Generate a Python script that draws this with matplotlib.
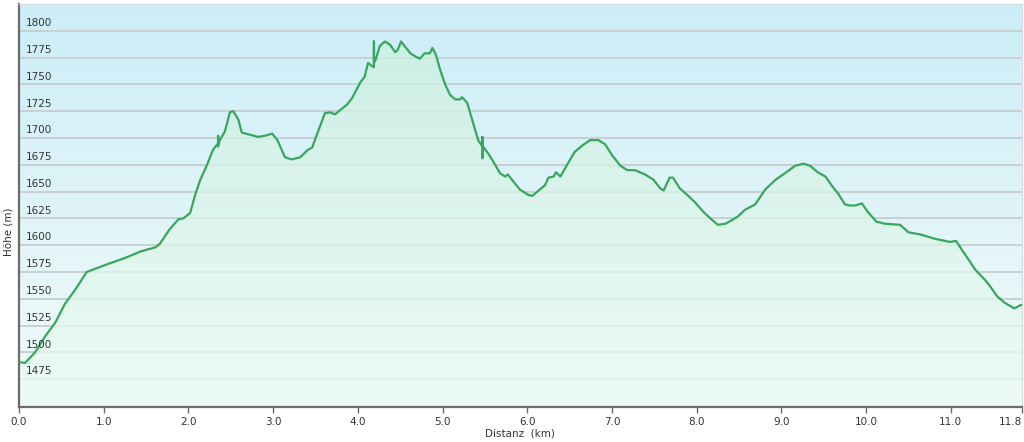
import numpy as np
import matplotlib
matplotlib.use("Agg")
import matplotlib.pyplot as plt
import matplotlib.transforms as mtransforms

# Höhenprofil (Distanz in km, Höhe in m)
dist = [0.00, 0.07, 0.19, 0.31, 0.43, 0.54, 0.66, 0.80, 0.90, 1.07, 1.25, 1.43,
        1.52, 1.61, 1.66, 1.78, 1.88, 1.94, 2.02, 2.08, 2.14, 2.22, 2.29, 2.35,
        2.35, 2.35, 2.37, 2.43, 2.49, 2.53, 2.59, 2.63, 2.73, 2.82, 2.90, 2.99,
        3.05, 3.14, 3.22, 3.32, 3.41, 3.46, 3.53, 3.61, 3.67, 3.73, 3.79, 3.87,
        3.93, 4.03, 4.08, 4.12, 4.17, 4.19, 4.19, 4.19, 4.21, 4.26, 4.32, 4.38,
        4.44, 4.47, 4.51, 4.56, 4.62, 4.68, 4.73, 4.79, 4.85, 4.88, 4.92, 4.97,
        5.03, 5.09, 5.15, 5.21, 5.23, 5.29, 5.35, 5.42, 5.47, 5.47, 5.47, 5.48,
        5.56, 5.68, 5.74, 5.77, 5.82, 5.91, 6.01, 6.06, 6.15, 6.21, 6.25, 6.31,
        6.34, 6.39, 6.47, 6.56, 6.65, 6.74, 6.84, 6.92, 7.00, 7.10, 7.18, 7.27,
        7.39, 7.49, 7.57, 7.61, 7.68, 7.72, 7.80, 7.90, 7.98, 8.08, 8.16, 8.25,
        8.34, 8.43, 8.49, 8.57, 8.69, 8.81, 8.93, 9.04, 9.16, 9.26, 9.34, 9.43,
        9.52, 9.60, 9.67, 9.75, 9.81, 9.87, 9.95, 10.02, 10.12, 10.22, 10.40,
        10.50, 10.64, 10.81, 10.99, 11.06, 11.17, 11.29, 11.41, 11.46, 11.55,
        11.64, 11.75, 11.82, 11.84]
hoehe = [1491, 1490, 1500, 1515, 1528, 1545, 1558, 1575, 1578, 1583, 1588, 1594,
         1596, 1598, 1601, 1615, 1624, 1625, 1630, 1647, 1661, 1675, 1689, 1695,
         1702, 1692, 1698, 1706, 1724, 1725, 1717, 1705, 1703, 1701, 1702, 1704,
         1698, 1682, 1680, 1682, 1689, 1691, 1706, 1723, 1724, 1722, 1726, 1731,
         1737, 1752, 1757, 1770, 1767, 1766, 1790, 1770, 1773, 1786, 1790, 1787,
         1780, 1782, 1790, 1785, 1779, 1776, 1774, 1779, 1779, 1784, 1778, 1764,
         1750, 1740, 1736, 1736, 1738, 1733, 1717, 1698, 1692, 1701, 1681, 1692,
         1683, 1667, 1664, 1666, 1661, 1652, 1647, 1646, 1652, 1656, 1663, 1664,
         1668, 1664, 1675, 1687, 1693, 1698, 1698, 1694, 1684, 1674, 1670, 1670,
         1666, 1661, 1653, 1651, 1663, 1663, 1653, 1646, 1640, 1631, 1625, 1619,
         1620, 1624, 1627, 1633, 1638, 1652, 1661, 1667, 1674, 1676, 1674, 1668,
         1664, 1655, 1648, 1638, 1637, 1637, 1639, 1631, 1622, 1620, 1619,
         1612, 1610, 1606, 1603, 1604, 1591, 1577, 1567, 1562, 1552,
         1546, 1541, 1544, 1544]

y_ticks = [1475, 1500, 1525, 1550, 1575, 1600, 1625, 1650, 1675, 1700, 1725, 1750, 1775, 1800]
x_ticks = [0, 1, 2, 3, 4, 5, 6, 7, 8, 9, 10, 11, 11.84]
x_labels = ["0.0", "1.0", "2.0", "3.0", "4.0", "5.0", "6.0", "7.0", "8.0", "9.0", "10.0", "11.0", "11.8"]

x_min, x_max = 0, 11.84
y_min, y_max = 1449, 1825

fig = plt.figure(figsize=(10.24, 4.42), dpi=100)
ax = fig.add_axes([19 / 1024, 35 / 442, 1003 / 1024, 403 / 442])
ax.set_xlim(x_min, x_max)
ax.set_ylim(y_min, y_max)

# Hintergrund: Verlauf hellblau -> fast weiss
top = np.array([0.80, 0.93, 0.976])
bot = np.array([0.95, 0.985, 0.975])
t = np.linspace(0, 1, 256)[:, None]
grad = (top * (1 - t) + bot * t)[:, None, :]
ax.imshow(grad, extent=[x_min, x_max, y_min, y_max], aspect="auto",
          origin="upper", zorder=0)

# Gitterlinien
for yv in y_ticks:
    ax.axhline(yv, color="#c9d0d3", lw=1.4, zorder=1)

# Fläche unter dem Profil (grünlicher Verlauf, auf Profil zugeschnitten)
ftop = np.array([0.80, 0.94, 0.88])
fbot = np.array([0.92, 0.985, 0.95])
fgrad = (ftop * (1 - t) + fbot * t)[:, None, :]
fill = ax.fill_between(dist, hoehe, y_min, color="none", lw=0, zorder=2)
im = ax.imshow(fgrad, extent=[x_min, x_max, y_min, 1800], aspect="auto",
               origin="upper", zorder=2, alpha=0.75)
im.set_clip_path(fill.get_paths()[0], transform=ax.transData)

ax.plot(dist, hoehe, color="#38a65d", lw=1.6, zorder=3, solid_joinstyle="round")

# Achsen
for s in ["top", "right"]:
    ax.spines[s].set_color("#d8dcdf")
    ax.spines[s].set_linewidth(1.0)
for s in ["left", "bottom"]:
    ax.spines[s].set_color("#6b6b6b")
    ax.spines[s].set_linewidth(1.6)

ax.set_yticks([])
trans = mtransforms.blended_transform_factory(ax.transAxes, ax.transData)
for yv in y_ticks:
    ax.text(7 / 1003, yv + 2.5, str(yv), transform=trans, ha="left", va="bottom",
            fontsize=7.5, color="#333333", zorder=4)

ax.set_xticks(x_ticks)
ax.set_xticklabels(x_labels, fontsize=7.5, color="#333333")
ax.get_xticklabels()[-1].set_ha("right")
ax.tick_params(axis="x", length=4, width=1, color="#6b6b6b", pad=3)

fig.text(520 / 1024, 8 / 442, "Distanz  (km)", ha="center", va="center",
         fontsize=7.5, color="#333333")
fig.text(9 / 1024, 210 / 442, "Höhe (m)", ha="center", va="center",
         rotation=90, fontsize=7.5, color="#333333")

fig.savefig("out.png", dpi=100)
